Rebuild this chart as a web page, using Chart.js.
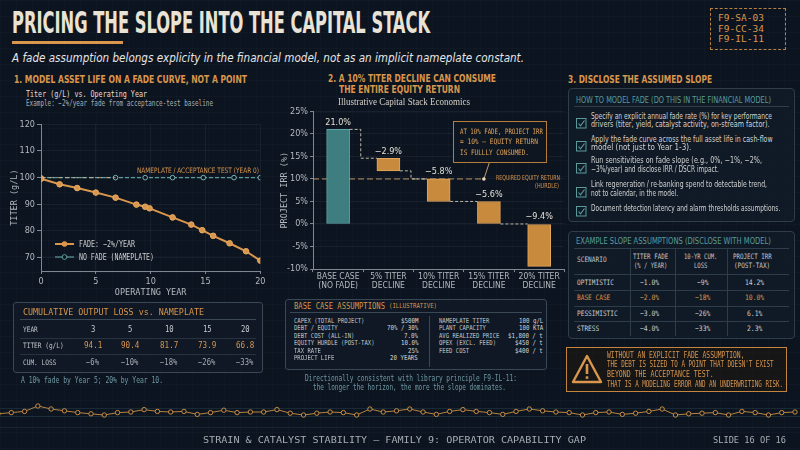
<!DOCTYPE html>
<html><head><meta charset="utf-8">
<script src="https://cdn.jsdelivr.net/npm/chart.js@4.4.1/dist/chart.umd.min.js"></script>
<style>
html,body{margin:0;padding:0;background:#0c1420;}
#root{position:relative;width:800px;height:450px;overflow:hidden;background-color:#0c1420;
background-image:linear-gradient(rgba(120,150,180,0.035) 1px,transparent 1px),linear-gradient(90deg,rgba(120,150,180,0.035) 1px,transparent 1px);background-size:16px 16px;}
.t{position:absolute;white-space:nowrap;line-height:1;}
.bx{position:absolute;box-sizing:border-box;}
canvas{position:absolute;}
</style></head><body><div id="root">
<canvas id="fadeChart" style="left:0px;top:112px;width:268px;height:186px"></canvas>
<canvas id="irrChart" style="left:270px;top:104px;width:296px;height:188px"></canvas>
<canvas id="ribbonChart" style="left:-7px;top:398px;width:807px;height:25px"></canvas>
</div>
<script>
// ---------------- DATA ----------------
const fadeYears = [0, 1.7, 3.3, 5.0, 6.8, 8.7, 9.5, 9.9, 12.0, 13.7, 14.7, 15.7, 17.2, 18.7, 20.0];
const fadeTiter = [99.6, 97.5, 96.1, 94.4, 92.5, 89.9, 89.1, 88.5, 85.1, 82.4, 80.3, 78.2, 75.4, 72.4, 68.9];
const noFadeYears = [0, 6.8, 9.5, 12.0, 14.8, 17.6, 20.0];
const noFadeTiter = 100;
const nameplateTiter = 100;
const titerTicks = [70, 80, 90, 100, 110, 120];

const lossYears = ['3', '5', '10', '15', '20'];
const lossTiter = ['94.1', '90.4', '81.7', '73.9', '66.8'];
const lossCum = ['−6%', '−10%', '−18%', '−26%', '−33%'];

const irrCategories = [['BASE CASE', '(NO FADE)'], ['5% TITER', 'DECLINE'], ['10% TITER', 'DECLINE'], ['15% TITER', 'DECLINE'], ['20% TITER', 'DECLINE']];
const irrRanges = [[0, 21.0], [11.8, 14.6], [5.0, 10.0], [0, 5.0], [-9.4, 0]];
const irrLabels = ['21.0%', '−2.9%', '−5.8%', '−5.6%', '−9.4%'];
const hurdleIrr = 10;

const baseLeftLabels = ['CAPEX (TOTAL PROJECT)', 'DEBT / EQUITY', 'DEBT COST (ALL-IN)', 'EQUITY HURDLE (POST-TAX)', 'TAX RATE', 'PROJECT LIFE'];
const baseLeftValues = ['$500M', '70% / 30%', '7.0%', '10.0%', '25%', '20 YEARS'];
const baseRightLabels = ['NAMEPLATE TITER', 'PLANT CAPACITY', 'AVG REALIZED PRICE', 'OPEX (EXCL. FEED)', 'FEED COST'];
const baseRightValues = ['100 g/L', '100 KTA', '$1,800 / t', '$450 / t', '$400 / t'];

const scenarioNames = ['OPTIMISTIC', 'BASE CASE', 'PESSIMISTIC', 'STRESS'];
const scenarioFade = ['−1.0%', '−2.0%', '−3.0%', '−4.0%'];
const scenarioLoss = ['−9%', '−18%', '−26%', '−33%'];
const scenarioIrr = ['14.2%', '10.0%', '6.1%', '2.3%'];

const ribbonSignal = [4, 6,8,17,12,9,6,4,2,6,7,11,8,7,8,3,6,10,6,7,7,11,5,2,5,7,6,2,12,7,9,
  12,7,3,8,11,8,6,3,8,12,9,7,6,2,6,7,3,5,8,12,2,4,5,6,2,8,6,2,6,7];

// ---------------- STYLE ----------------
const BG = '#0c1420', ORANGE = '#d9964c', TEAL = '#5a9c9c', LIGHT = '#e4dfd3', GRAY = '#a7adb3', DIM = '#6f9aa3';
const NARROW = "'Liberation Sans Narrow','DejaVu Sans Condensed','Roboto Condensed',sans-serif";
const MONO = "'DejaVu Sans Mono','Liberation Mono',monospace";
const SERIF = "'Liberation Serif','DejaVu Serif',serif";
const root = document.getElementById('root');

function T(txt, x, y, o) {
  o = o || {};
  const d = document.createElement('div');
  d.className = 't';
  d.textContent = txt;
  const fs = o.fs || 8;
  d.style.fontSize = fs + 'px';
  d.style.fontFamily = o.ff || MONO;
  d.style.color = o.c || LIGHT;
  if (o.b) d.style.fontWeight = 'bold';
  if (o.i) d.style.fontStyle = 'italic';
  d.style.top = (y - fs * 0.5) + 'px';
  d.style.left = '0px';
  root.appendChild(d);
  const nat = d.getBoundingClientRect().width;
  const sx = o.w ? o.w / nat : (o.sx || 1);
  const w = nat * sx;
  let left = x;
  if (o.a === 'c') left = x - w / 2; else if (o.a === 'r') left = x - w;
  d.style.left = left + 'px';
  d.style.transformOrigin = '0 50%';
  d.style.transform = 'scaleX(' + sx + ')';
  return d;
}
function B(x, y, w, h, css) {
  const d = document.createElement('div');
  d.className = 'bx';
  d.style.left = x + 'px'; d.style.top = y + 'px'; d.style.width = w + 'px'; d.style.height = h + 'px';
  d.style.cssText += css || '';
  root.appendChild(d);
  return d;
}
function SVG(x, y, w, h, inner) {
  const d = document.createElement('div');
  d.className = 'bx';
  d.style.left = x + 'px'; d.style.top = y + 'px'; d.style.width = w + 'px'; d.style.height = h + 'px';
  d.innerHTML = '<svg width="' + w + '" height="' + h + '" viewBox="0 0 ' + w + ' ' + h + '">' + inner + '</svg>';
  root.appendChild(d);
}

// ---------------- HEADER ----------------
T('PRICING THE SLOPE INTO THE CAPITAL STACK', 12, 23, {fs: 30, ff: NARROW, b: true, c: '#e9e3d5', w: 418});
B(12, 41, 111, 3, 'background:' + ORANGE + ';');
T('A fade assumption belongs explicity in the financial model, not as an implicit nameplate constant.', 12, 57.5, {fs: 12, ff: NARROW, i: true, c: '#e6e6e6', w: 512});
B(710, 8, 76, 42, 'border:1px dashed #b9803f;');
T('F9-SA-03', 718, 18.5, {fs: 9, c: ORANGE, w: 46});
T('F9-CC-34', 718, 29, {fs: 9, c: ORANGE, w: 46});
T('F9-IL-11', 718, 39.5, {fs: 9, c: ORANGE, w: 46});

// ---------------- SECTION 1 ----------------
T('1. MODEL ASSET LIFE ON A FADE CURVE, NOT A POINT', 14, 79, {fs: 10.5, ff: NARROW, b: true, c: ORANGE, w: 233});
T('Titer (g/L) vs. Operating Year', 26, 94, {fs: 9.5, c: LIGHT, w: 121});
T('Example: −2%/year fade from acceptance-test baseline', 26, 103.5, {fs: 8, c: GRAY, w: 187});
T('NAMEPLATE / ACCEPTANCE TEST (YEAR 0)', 137, 171, {fs: 7.5, ff: NARROW, c: ORANGE, w: 122});
// legend
SVG(54, 239, 22, 22, '<line x1="1" y1="5" x2="20" y2="5" stroke="' + ORANGE + '" stroke-width="2"/><circle cx="10.5" cy="5" r="2.8" fill="' + ORANGE + '"/>' +
  '<line x1="1" y1="18" x2="20" y2="18" stroke="' + TEAL + '" stroke-width="1.2"/><circle cx="10.5" cy="18" r="2.4" fill="' + BG + '" stroke="' + TEAL + '"/>');
T('FADE: −2%/YEAR', 79, 244, {fs: 8.5, c: '#cfcfcf', w: 56});
T('NO FADE (NAMEPLATE)', 79, 257, {fs: 8.5, c: '#cfcfcf', w: 75});

// left table
B(13, 302, 250, 71, 'border:1px solid #3a4755;border-radius:3px;background:rgba(16,25,37,0.75);');
T('CUMULATIVE OUTPUT LOSS vs. NAMEPLATE', 23, 311.7, {fs: 9.5, c: ORANGE, w: 181});
B(20, 319, 236, 1, 'background:#3a4755;');
B(20, 337.5, 236, 1, 'background:rgba(70,85,100,0.45);');
B(20, 354, 236, 1, 'background:rgba(70,85,100,0.45);');
const colX = [93, 130, 169, 207, 245];
T('YEAR', 23, 330, {fs: 7.5, c: '#c0c4c8', sx: 0.82});
T('TITER (g/L)', 23, 345.5, {fs: 7.5, c: '#c0c4c8', sx: 0.82});
T('CUM. LOSS', 23, 362.5, {fs: 7.5, c: '#c0c4c8', sx: 0.82});
lossYears.forEach((v, i) => T(v, colX[i], 330, {fs: 8, c: '#c8ccd0', a: 'c', sx: 0.9}));
lossTiter.forEach((v, i) => T(v, colX[i], 345.5, {fs: 8, c: ORANGE, a: 'c', sx: 0.95}));
lossCum.forEach((v, i) => T(v, colX[i], 362.5, {fs: 8, c: GRAY, a: 'c', sx: 0.9}));
T('A 10% fade by Year 5; 20% by Year 10.', 21, 381, {fs: 8, c: DIM, w: 142});

// ---------------- SECTION 2 ----------------
T('2. A 10% TITER DECLINE CAN CONSUME', 328, 78, {fs: 10.5, ff: NARROW, b: true, c: ORANGE, w: 168});
T('THE ENTIRE EQUITY RETURN', 339, 89.5, {fs: 10.5, ff: NARROW, b: true, c: ORANGE, w: 121});
T('Illustrative Capital Stack Economics', 338, 103, {fs: 9.5, ff: SERIF, c: '#d4d0c4', w: 132});
B(453, 121, 94, 42, 'border:1px solid #b57c3c;background:#0e1621;');
T('AT 10% FADE, PROJECT IRR', 460, 131.3, {fs: 7.5, c: '#e2a55c', w: 83});
T('= 10% — EQUITY RETURN', 460, 141.8, {fs: 7.5, c: '#e2a55c', w: 78});
T('IS FULLLY CONSUMED.', 460, 152.3, {fs: 7.5, c: '#e2a55c', w: 69});
T('REQUIRED EQUITY RETURN', 560, 178.3, {fs: 7, ff: NARROW, c: ORANGE, a: 'r', w: 64});
T('(HURDLE)', 559, 186.7, {fs: 7, ff: NARROW, c: ORANGE, a: 'r', w: 24});

// base case table
B(285, 299, 262, 71, 'border:1px solid #3a4755;border-radius:3px;background:rgba(16,25,37,0.75);');
T('BASE CASE ASSUMPTIONS', 294, 306.3, {fs: 9, c: ORANGE, w: 91});
T('(ILLUSTRATIVE)', 388.5, 306.8, {fs: 7, c: ORANGE, w: 48});
B(290, 311.5, 252, 1, 'background:#3a4755;');
B(429, 316, 1, 51, 'background:#3a4755;');
baseLeftLabels.forEach((v, i) => T(v, 294, 321 + i * 7.5, {fs: 6.8, c: '#c0c4c8', sx: 0.82}));
baseLeftValues.forEach((v, i) => T(v, 418, 321 + i * 7.5, {fs: 6.8, c: '#d6d6d6', a: 'r', sx: 0.85}));
baseRightLabels.forEach((v, i) => T(v, 439, 321 + i * 7.5, {fs: 6.8, c: '#c0c4c8', sx: 0.82}));
baseRightValues.forEach((v, i) => T(v, 543, 321 + i * 7.5, {fs: 6.8, c: '#d6d6d6', a: 'r', sx: 0.85}));
T('Directionally consistent with library principle F9-IL-11:', 305, 379.3, {fs: 8, c: DIM, w: 212});
T('the longer the horizon, the more the slope dominates.', 313.3, 388, {fs: 8, c: DIM, w: 193});

// ---------------- SECTION 3 ----------------
T('3. DISCLOSE THE ASSUMED SLOPE', 568.3, 79, {fs: 10.5, ff: NARROW, b: true, c: ORANGE, w: 144});
B(568, 88, 227, 134, 'border:1px solid #2f3d4b;border-radius:4px;background:rgba(18,28,40,0.75);');
T('HOW TO MODEL FADE (DO THIS IN THE FINANCIAL MODEL)', 576, 99.3, {fs: 9.5, ff: NARROW, c: TEAL, w: 195});
B(574, 106, 215, 1, 'background:#2f3d4b;');
const items = [
  [['Specify an explicit annual fade rate (%) for key performance', 181], ['drivers (titer, yield, catalyst activity, on-stream factor).', 178.6], 116, 124, 119.5],
  [['Apply the fade curve across the full asset life in cash-flow', 181.6], ['model (not just to Year 1-3).', 100.3], 139.3, 147.5, 143.3],
  [['Run sensitivities on fade slope (e.g., 0%, −1%, −2%,', 171], ['−3%/year) and disclose IRR / DSCR impact.', 128], 160.5, 169, 164.5],
  [['Link regeneration / re-banking spend to detectable trend,', 176], ['not to calendar, in the model.', 87], 184.3, 193.3, 189],
  [['Document detection latency and alarm thresholds assumptions.', 189.3], null, 208, null, 208]
];
items.forEach(it => {
  const cy = it[4];
  SVG(576, cy - 5, 11, 11, '<rect x="0.5" y="0.5" width="9.5" height="9.5" fill="none" stroke="' + TEAL + '" stroke-width="1"/><path d="M2.5 5.5 L4.5 7.8 L8.5 2.5" fill="none" stroke="' + TEAL + '" stroke-width="1.1"/>');
  T(it[0][0], 590.7, it[2], {fs: 8.5, ff: NARROW, c: '#d2d2d2', w: it[0][1]});
  if (it[1]) T(it[1][0], 590.7, it[3], {fs: 8.5, ff: NARROW, c: '#d2d2d2', w: it[1][1]});
});

B(568, 231, 227, 108, 'border:1px solid #2f3d4b;border-radius:4px;background:rgba(18,28,40,0.75);');
T('EXAMPLE SLOPE ASSUMPTIONS (DISCLOSE WITH MODEL)', 576, 240.7, {fs: 9.5, ff: NARROW, c: TEAL, w: 195});
B(574, 247.5, 215, 1, 'background:#2f3d4b;');
[630, 675, 727].forEach(x => B(x, 248, 1, 88, 'background:#2f3d4b;'));
[274, 290, 305.7, 321].forEach(y => B(574, y, 215, 1, 'background:#2f3d4b;'));
T('SCENARIO', 577, 260, {fs: 7.5, c: '#c0c4c8', sx: 0.82});
T('TITER FADE', 651, 256.7, {fs: 7.5, c: '#c0c4c8', a: 'c', sx: 0.78});
T('(% / YEAR)', 651, 265.5, {fs: 7.5, c: '#c0c4c8', a: 'c', sx: 0.74});
T('10-YR CUM.', 701, 256.7, {fs: 7.5, c: '#c0c4c8', a: 'c', sx: 0.74});
T('LOSS', 701, 265.5, {fs: 7.5, c: '#c0c4c8', a: 'c', sx: 0.74});
T('PROJECT IRR', 752, 256.7, {fs: 7.5, c: '#c0c4c8', a: 'c', sx: 0.78});
T('(POST-TAX)', 752, 265.5, {fs: 7.5, c: '#c0c4c8', a: 'c', sx: 0.8});
const rowY = [282.3, 297.7, 313.3, 329];
scenarioNames.forEach((v, i) => {
  const col = i === 1 ? ORANGE : '#c8ccd0';
  T(v, 577, rowY[i], {fs: 7.5, c: col, sx: 0.82});
  T(scenarioFade[i], 650, rowY[i], {fs: 7.5, c: col, a: 'c', sx: 0.85});
  T(scenarioLoss[i], 703, rowY[i], {fs: 7.5, c: col, a: 'c', sx: 0.85});
  T(scenarioIrr[i], 755, rowY[i], {fs: 7.5, c: col, a: 'c', sx: 0.85});
});

B(566, 347, 221, 45, 'border:1px solid #c4853e;background:rgba(30,24,18,0.6);');
SVG(571, 354, 32, 31, '<path d="M16 2 L30 28 L2 28 Z" fill="none" stroke="' + ORANGE + '" stroke-width="2.4" stroke-linejoin="round"/><rect x="14.7" y="10" width="2.6" height="10" fill="' + ORANGE + '"/><rect x="14.7" y="22.3" width="2.6" height="2.6" fill="' + ORANGE + '"/>');
T('WITHOUT AN EXPLICIT FADE ASSUMPTION,', 606.7, 355.7, {fs: 8, c: ORANGE, w: 137.5});
T('THE DEBT IS SIZED TO A POINT THAT DOESN\'T EXIST', 606.7, 365.2, {fs: 8, c: ORANGE, w: 166.6});
T('BEYOND THE ACCEPTANCE TEST.', 606.7, 374.8, {fs: 8, c: ORANGE, w: 106.6});
T('THAT IS A MODELING ERROR AND AN UNDERWRITING RISK.', 606.7, 384.5, {fs: 8, c: ORANGE, w: 176});

// ---------------- FOOTER ----------------
B(0, 407.5, 800, 1, 'background:rgba(90,140,150,0.18);');
B(0, 415.5, 800, 1, 'background:rgba(90,140,150,0.18);');
B(0, 427, 800, 1, 'background:rgba(90,140,150,0.14);');
T('STRAIN & CATALYST STABILITY — FAMILY 9: OPERATOR CAPABILITY GAP', 203, 440, {fs: 9, c: GRAY, w: 383});
T('SLIDE 16 OF 16', 713, 440, {fs: 9, c: GRAY, w: 73});

// ---------------- CHARTS ----------------
Chart.defaults.animation = false;
const tickFont = {family: NARROW, size: 9};
const gridCol = 'rgba(160,180,200,0.08)';
const axisCol = '#7f8892';

const nameplatePlugin = {
  id: 'nameplate',
  afterDatasetsDraw(chart) {
    const {ctx, scales: {x, y}} = chart;
    const yy = y.getPixelForValue(nameplateTiter);
    ctx.save();
    ctx.strokeStyle = 'rgba(225,185,130,0.75)';
    ctx.lineWidth = 1;
    ctx.setLineDash([5, 3]);
    ctx.beginPath();
    ctx.moveTo(x.getPixelForValue(0), yy);
    ctx.lineTo(x.getPixelForValue(noFadeYears[1]), yy);
    ctx.stroke();
    ctx.restore();
  }
};

new Chart(document.getElementById('fadeChart'), {
  type: 'line',
  data: {
    datasets: [
      {label: 'NO FADE (NAMEPLATE)', data: noFadeYears.map(x => ({x, y: noFadeTiter})), borderColor: TEAL, borderWidth: 1.1,
        borderDash: [4, 2], pointRadius: 2.3, pointBackgroundColor: BG, pointBorderColor: '#7fb3b3', pointBorderWidth: 1, order: 2},
      {label: 'FADE: −2%/YEAR', data: fadeYears.map((x, i) => ({x, y: fadeTiter[i]})), borderColor: ORANGE, borderWidth: 2,
        pointRadius: 2.8, pointBackgroundColor: ORANGE, pointBorderColor: '#e8ab63', pointBorderWidth: 1, tension: 0, order: 1}
    ]
  },
  options: {
    responsive: false, animation: false,
    layout: {padding: {top: 12.3, right: 7.7, left: 0, bottom: 0}},
    plugins: {legend: {display: false}, tooltip: {enabled: false}},
    scales: {
      x: {type: 'linear', min: 0, max: 20,
        ticks: {stepSize: 5, color: '#b4b9be', font: tickFont, padding: 2, maxRotation: 0},
        grid: {color: gridCol, tickLength: 3, tickColor: axisCol}, border: {color: axisCol},
        title: {display: true, text: 'OPERATING YEAR', color: '#b4b9be', font: {family: MONO, size: 8.5}, padding: {top: 0, bottom: 0}},
        afterFit(s) { s.height = 27; }},
      y: {min: 65, max: 120,
        afterBuildTicks(s) { s.ticks = titerTicks.map(v => ({value: v})); },
        ticks: {color: '#b4b9be', font: tickFont, padding: 2},
        grid: {color: gridCol, tickLength: 4, tickColor: axisCol}, border: {color: axisCol},
        title: {display: true, text: 'TITER (g/L)', color: '#b4b9be', font: {family: MONO, size: 8.5}, padding: {top: 10, bottom: 0}},
        afterFit(s) { s.width = 41; }}
    }
  },
  plugins: [nameplatePlugin]
});

const waterfallPlugin = {
  id: 'waterfall',
  beforeDatasetsDraw(chart) {
    const {ctx, scales: {x, y}, chartArea} = chart;
    const yh = y.getPixelForValue(hurdleIrr);
    ctx.save();
    ctx.strokeStyle = 'rgba(214,170,110,0.85)';
    ctx.lineWidth = 1;
    ctx.setLineDash([6, 3]);
    ctx.beginPath();
    ctx.moveTo(chartArea.left, yh);
    ctx.lineTo(x.getPixelForValue(2.9), yh);
    ctx.stroke();
    ctx.restore();
  },
  afterDatasetsDraw(chart) {
    const {ctx, scales: {x, y}} = chart;
    const meta = chart.getDatasetMeta(0);
    ctx.save();
    ctx.strokeStyle = 'rgba(232,222,200,0.8)';
    ctx.lineWidth = 1;
    ctx.setLineDash([3, 2]);
    for (let i = 0; i < irrRanges.length - 1; i++) {
      const a = meta.data[i], b = meta.data[i + 1];
      const from = i === 0 ? irrRanges[0][1] : irrRanges[i][0];
      const to = irrRanges[i + 1][1];
      const xa = a.x + a.width / 2, xb = b.x - b.width / 2, xm = x.getPixelForValue(i + 0.45);
      ctx.beginPath();
      ctx.moveTo(xa, y.getPixelForValue(from));
      ctx.lineTo(xm, y.getPixelForValue(from));
      ctx.lineTo(xm, y.getPixelForValue(to));
      ctx.lineTo(xb, y.getPixelForValue(to));
      ctx.stroke();
    }
    ctx.setLineDash([]);
    // leader + dot
    const dx = x.getPixelForValue(2.9), dy = y.getPixelForValue(hurdleIrr);
    ctx.strokeStyle = 'rgba(214,170,110,0.9)';
    ctx.beginPath(); ctx.moveTo(dx, dy); ctx.lineTo(x.getPixelForValue(3.02), y.getPixelForValue(14.0)); ctx.stroke();
    ctx.fillStyle = '#e8dcc4';
    ctx.beginPath(); ctx.arc(dx, dy, 1.8, 0, Math.PI * 2); ctx.fill();
    // value labels
    ctx.fillStyle = LIGHT;
    ctx.font = '9px ' + NARROW;
    ctx.textAlign = 'center';
    ctx.textBaseline = 'middle';
    meta.data.forEach((el, i) => {
      ctx.fillText(irrLabels[i], el.x, y.getPixelForValue(irrRanges[i][1]) - 7);
    });
    ctx.restore();
  }
};

new Chart(document.getElementById('irrChart'), {
  type: 'bar',
  data: {
    labels: irrCategories,
    datasets: [{
      data: irrRanges,
      backgroundColor: irrRanges.map((r, i) => i === 0 ? '#3e7e80' : '#c88a3c'),
      borderColor: irrRanges.map((r, i) => i === 0 ? '#5fa6a6' : '#e2a75c'),
      borderWidth: 1, borderSkipped: false, barThickness: 23
    }]
  },
  options: {
    responsive: false, animation: false,
    layout: {padding: {top: 7, right: 1.7, left: 0, bottom: 0}},
    plugins: {legend: {display: false}, tooltip: {enabled: false}},
    scales: {
      x: {ticks: {color: '#b4b9be', font: {family: NARROW, size: 8.5, lineHeight: 1.0}, padding: 1, maxRotation: 0, autoSkip: false},
        grid: {display: true, drawOnChartArea: false, tickLength: 3, tickColor: axisCol}, border: {color: axisCol},
        afterFit(s) { s.height = 23; }},
      y: {min: -10, max: 25,
        ticks: {stepSize: 5, color: '#b4b9be', font: tickFont, padding: 2, callback: v => v + '%'},
        grid: {color: gridCol, tickLength: 3, tickColor: axisCol}, border: {color: axisCol},
        title: {display: true, text: 'PROJECT IRR (%)', color: '#b4b9be', font: {family: MONO, size: 8.5}, padding: {top: 10, bottom: 0}},
        afterFit(s) { s.width = 43; }}
    }
  },
  plugins: [waterfallPlugin]
});

new Chart(document.getElementById('ribbonChart'), {
  type: 'line',
  data: {
    labels: ribbonSignal.map((v, i) => i),
    datasets: [{data: ribbonSignal, borderColor: '#b9843f', borderWidth: 1, pointRadius: 2.2,
      pointBackgroundColor: BG, pointBorderColor: '#c98d45', pointBorderWidth: 1, tension: 0}]
  },
  options: {
    responsive: false, animation: false,
    layout: {padding: 0},
    plugins: {legend: {display: false}, tooltip: {enabled: false}},
    scales: {x: {display: false, offset: false}, y: {display: false, min: -3, max: 22}}
  }
});
</script></body></html>
